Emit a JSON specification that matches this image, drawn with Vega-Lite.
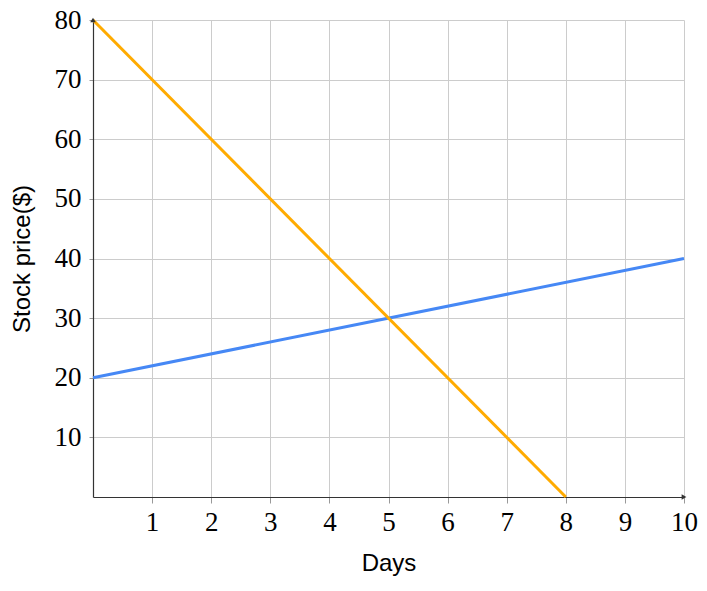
{
  "$schema": "https://vega.github.io/schema/vega-lite/v6.json",
  "width": 591,
  "height": 477,
  "autosize": {"type": "none"},
  "padding": {"left": 93, "top": 20, "right": 23, "bottom": 94},
  "background": "white",
  "config": {
    "view": {"stroke": null},
    "axis": {
      "labelFont": "Liberation Serif",
      "labelFontSize": 27,
      "labelColor": "#000",
      "titleFont": "Liberation Sans",
      "titleFontSize": 24,
      "titleFontWeight": "normal",
      "titleColor": "#000",
      "gridColor": "#cccccc",
      "gridWidth": 1,
      "domainColor": "#333333",
      "domainWidth": 1.2,
      "tickColor": "#999999"
    }
  },
  "datasets": {
    "series": [
      {"day": 0, "price": 20, "stock": "B"},
      {"day": 10, "price": 40, "stock": "B"},
      {"day": 0, "price": 80, "stock": "A"},
      {"day": 8, "price": 0, "stock": "A"}
    ]
  },
  "layer": [
    {
      "data": {"name": "series"},
      "mark": {"type": "line", "strokeWidth": 3, "clip": false},
      "encoding": {
        "x": {
          "field": "day", "type": "quantitative",
          "scale": {"domain": [0, 10], "nice": false},
          "axis": {"title": "Days", "format": "d", "values": [1,2,3,4,5,6,7,8,9,10], "tickSize": 6, "labelPadding": 6, "titlePadding": 16, "grid": true, "labelFlush": false}
        },
        "y": {
          "field": "price", "type": "quantitative",
          "scale": {"domain": [0, 80], "nice": false},
          "axis": {"title": "Stock price($)", "format": "d", "values": [10,20,30,40,50,60,70,80], "tickSize": 4, "labelPadding": 8, "titlePadding": 20, "grid": true, "labelFlush": false}
        },
        "color": {
          "field": "stock", "type": "nominal",
          "scale": {"domain": ["B", "A"], "range": ["#4688f5", "#ffab00"]},
          "legend": null
        },
        "order": {"field": "stock", "sort": "descending"}
      }
    },
    {
      "data": {"values": [{"day": 10, "price": 0}]},
      "mark": {"type": "point", "shape": "triangle-right", "filled": true, "size": 30, "color": "#333333", "opacity": 1, "clip": false},
      "encoding": {
        "x": {"field": "day", "type": "quantitative"},
        "y": {"field": "price", "type": "quantitative"}
      }
    },
    {
      "data": {"values": [{"day": 0, "price": 80}]},
      "mark": {"type": "point", "shape": "triangle-up", "filled": true, "size": 30, "color": "#333333", "opacity": 1, "clip": false},
      "encoding": {
        "x": {"field": "day", "type": "quantitative"},
        "y": {"field": "price", "type": "quantitative"}
      }
    }
  ]
}
